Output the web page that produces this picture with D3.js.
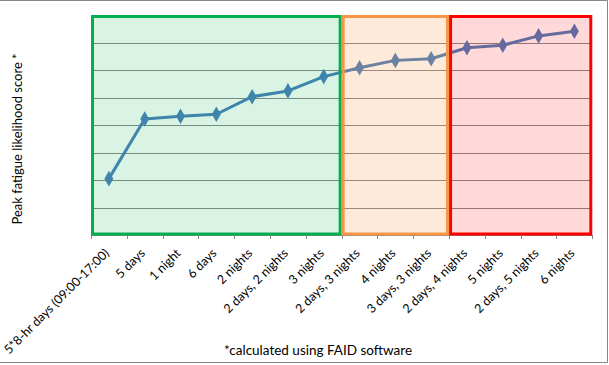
<!DOCTYPE html>
<html><head><meta charset="utf-8">
<script src="https://cdn.jsdelivr.net/npm/d3@7"></script>
<style>body{margin:0;background:#fff}svg{display:block}</style>
</head><body><svg id="c" width="609" height="365"></svg>
<script>
const categories = ["5*8-hr days (09:00-17:00)","5 days","1 night","6 days","2 nights","2 days, 2 nights","3 nights","2 days, 3 nights","4 nights","3 days, 3 nights","2 days, 4 nights","5 nights","2 days, 5 nights","6 nights"];
const scores = [20.5,42.2,43.2,43.9,50.3,52.4,57.6,60.8,63.5,64.1,68.1,69.0,72.4,74.1];
const yTicks = [0,10,20,30,40,50,60,70,80];
const regionStart = ["5*8-hr days (09:00-17:00)","2 days, 3 nights","2 days, 4 nights"];
const regionEnd = ["3 nights","3 days, 3 nights","6 nights"];
const regionStroke = ["#00B050","#F79646","#FF0000"];
const regionFill = ["rgba(0,176,80,0.15)","rgba(247,150,70,0.2)","rgba(255,0,0,0.15)"];
const yTitle = "Peak fatigue likelihood score *";
const caption = "*calculated using FAID software";

const svg = d3.select("#c");
const L = 91, R = 592.3, T = 15, B = 235;
const x = d3.scaleBand().domain(categories).range([L, R]).padding(0);
const y = d3.scaleLinear().domain([0, 80]).range([B, T]);
const font = "Lato, 'Open Sans', sans-serif";

// outer frame (top, right, bottom)
svg.append("path").attr("d","M0,0.5H607.5V362.5H0").attr("fill","none").attr("stroke","#868686").attr("stroke-width",1);

// gridlines
svg.append("g").selectAll("line").data(yTicks.filter(t => t > 0 && t < 80)).join("line")
  .attr("x1", L).attr("x2", R).attr("y1", d => Math.round(y(d)) + 0.5).attr("y2", d => Math.round(y(d)) + 0.5)
  .attr("stroke", "#868686").attr("stroke-width", 1);

// x axis with labels at band centers
const ax = svg.append("g").attr("transform", `translate(0,${B})`)
  .call(d3.axisBottom(x).tickSize(0).tickSizeOuter(0));
ax.select(".domain").attr("stroke", "#868686");
ax.selectAll("text").attr("font-family", font).attr("font-size", 12.5).attr("fill", "#000")
  .attr("text-anchor", "end").attr("dy", null).attr("y", 0)
  .attr("transform", "translate(1,19) rotate(-45)");
// boundary ticks
const bounds = categories.map(c => x(c)).concat([R]);
svg.append("g").selectAll("line").data(bounds).join("line")
  .attr("x1", d => Math.round(d) + 0.5).attr("x2", d => Math.round(d) + 0.5)
  .attr("y1", B).attr("y2", B + 4).attr("stroke", "#868686");

// line + markers
const cx = d => x(d) + x.bandwidth() / 2;
svg.append("path").datum(scores)
  .attr("d", d3.line().x((d, i) => cx(categories[i])).y(d => y(d)))
  .attr("fill", "none").attr("stroke", "#4A7EBB").attr("stroke-width", 3).attr("stroke-linejoin", "round");
svg.append("g").selectAll("path").data(scores).join("path")
  .attr("d", d3.symbol(d3.symbolDiamond, 70))
  .attr("transform", (d, i) => `translate(${cx(categories[i])},${y(d)})`)
  .attr("fill", "#4A7EBB");

// region overlays
regionStart.forEach((s, i) => {
  const x0 = x(s), x1 = x(regionEnd[i]) + x.bandwidth();
  svg.append("rect").attr("x", x0 + 1.5).attr("y", T + 1.5)
    .attr("width", x1 - x0 - 3).attr("height", B - T - 2.5)
    .attr("fill", regionFill[i]).attr("stroke", regionStroke[i]).attr("stroke-width", 3);
});

// titles
svg.append("text").attr("transform", `translate(22,${(T + B) / 2 + 14}) rotate(-90)`)
  .attr("text-anchor", "middle").attr("font-family", font).attr("font-size", 13).text(yTitle);
svg.append("text").attr("x", 318).attr("y", 355).attr("text-anchor", "middle")
  .attr("font-family", font).attr("font-size", 13.5).text(caption);
</script></body></html>
